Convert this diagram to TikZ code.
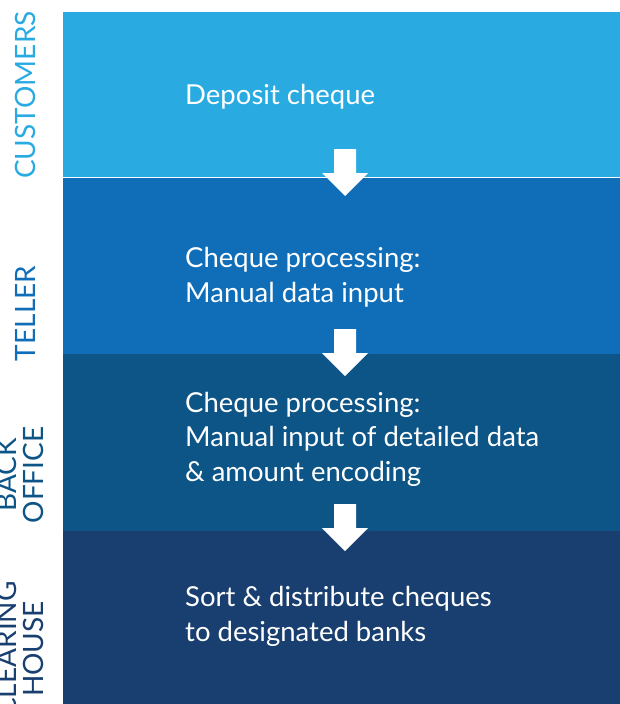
\documentclass[tikz,border=0pt]{standalone}
\usepackage{fontspec}
\setmainfont{Lato}
\definecolor{custblue}{HTML}{29ABE2}
\definecolor{tellblue}{HTML}{106EB8}
\definecolor{backblue}{HTML}{0D5487}
\definecolor{clearblue}{HTML}{183F6F}

\begin{document}
\begin{tikzpicture}[x=1pt, y=-1pt,
    lanetext/.style={text=white, anchor=base west, align=left, inner sep=0pt,
      font=\fontsize{27.5}{34.5}\selectfont},
    lanelabel/.style={rotate=90, anchor=base, align=center, inner sep=0pt,
      font=\fontsize{28}{27}\selectfont}]
  \useasboundingbox (0,0) rectangle (620,704);
  \clip (0,0) rectangle (620,704);
  % lanes
  \fill[custblue] (63,12) rectangle (620,176.5);
  \fill[tellblue] (63,177.8) rectangle (620,354);
  \fill[backblue] (63,354) rectangle (620,531);
  \fill[clearblue] (63,531) rectangle (620,704);
  % lane names
  \draw (35,95) node[lanelabel, text=custblue](customers){CUSTOMERS};
  \draw (35,313.5) node[lanelabel, text=tellblue](teller){TELLER};
  \draw (43,475) node[lanelabel, text=backblue](backoffice){BACK\\OFFICE};
  \draw (43,649) node[lanelabel, text=clearblue](clearing){CLEARING\\HOUSE};
  % steps (base = last line)
  \draw (185,104) node[lanetext](deposit){Deposit cheque};
  \draw (185,302) node[lanetext](manual){Cheque processing:\\Manual data input};
  \draw (185,481) node[lanetext](detailed){Cheque processing:\\Manual input of detailed data\\\& amount encoding};
  \draw (185,641) node[lanetext](sort){Sort \& distribute cheques\\to designated banks};
  % arrows
  \foreach \t in {149,329,504}
    \fill[white] (334,\t) -- (356,\t) -- (356,\t+24) -- (368,\t+24)
      -- (345,\t+47) -- (322,\t+24) -- (334,\t+24) -- cycle;
\end{tikzpicture}
\end{document}
